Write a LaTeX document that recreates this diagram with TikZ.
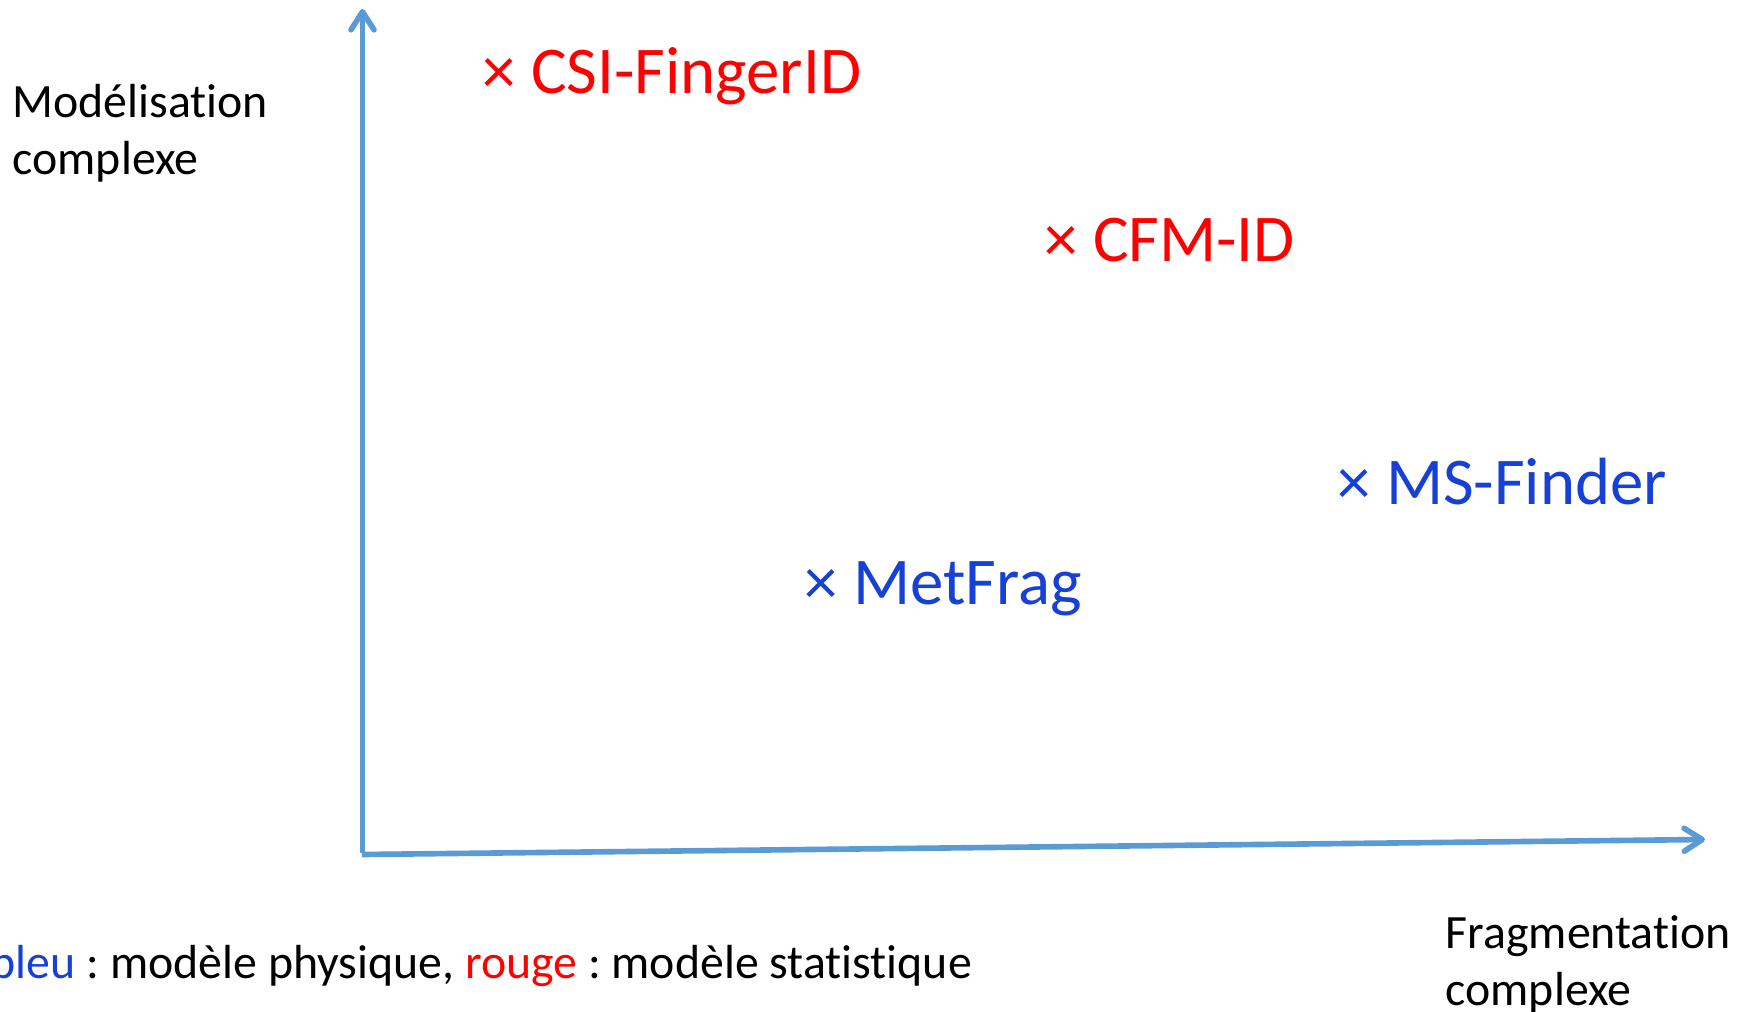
\documentclass[tikz,border=0pt]{standalone}
\usepackage{fontspec}
\setmainfont{Carlito}[Ligatures=NoCommon]
\usetikzlibrary{arrows.meta}

\definecolor{axisblue}{RGB}{91,155,213}
\definecolor{physblue}{RGB}{22,64,214}
\definecolor{statred}{RGB}{255,0,0}

\tikzset{
  axis/.style={line width=1.6pt,axisblue,-{Straight Barb[length=1.8mm,width=2.3mm,round]}},
  tool/.style={anchor=base west,inner sep=0pt,font=\fontsize{19pt}{23pt}\selectfont},
  caption/.style={inner sep=0pt,align=left,font=\fontsize{13.6pt}{16.2pt}\selectfont\frenchspacing}
}

\begin{document}
\begin{tikzpicture}[x=0.01cm,y=-0.01cm]
  \useasboundingbox (0,0) rectangle (1748,1012);
  % Axes
  \coordinate (ybot) at (362.5,853);
  \coordinate (ytop) at (362.5,9);
  \coordinate (xleft) at (362,854.5);
  \coordinate (xright) at (1705,839.5);
  \draw[axis] (ybot) -- (ytop);
  \draw[axis] (xleft) -- (xright);
  % Axis titles (base = last line)
  \node[caption,anchor=base west] (ylabel) at (12,174) {Modélisation\\complexe};
  \node[caption,anchor=base west] (xlabel) at (1445,1005) {Fragmentation\\complexe};
  % Tools
  \node[tool,statred] (csi) at (482,93) {× CSI-FingerID};
  \node[tool,statred] (cfm) at (1044,261) {× CFM-ID};
  \node[tool,physblue] (msf) at (1337,504) {× MS-Finder};
  \node[tool,physblue] (metfrag) at (804,604) {× MetFrag};
  % Legend
  \node[caption,anchor=base west] (legend) at (-10,978)
    {\textcolor{physblue}{bleu} : modèle physique, \textcolor{statred}{rouge} : modèle statistique};
\end{tikzpicture}
\end{document}
